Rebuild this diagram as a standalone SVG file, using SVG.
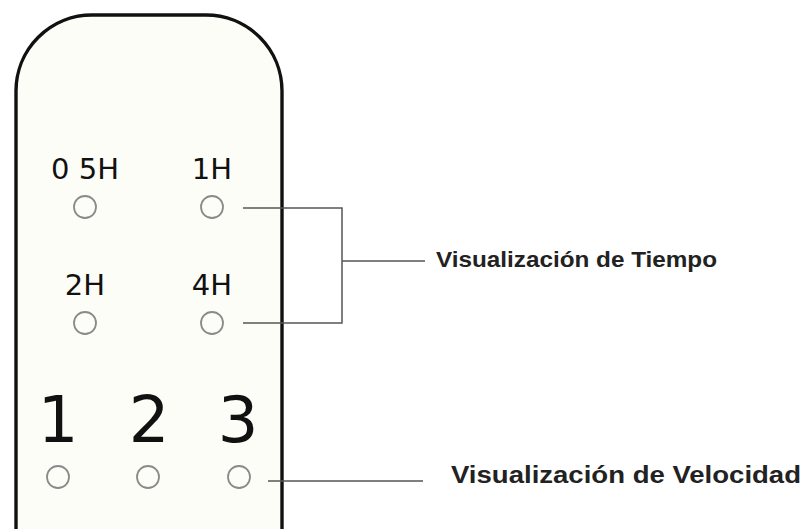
<svg xmlns="http://www.w3.org/2000/svg" width="806" height="529" viewBox="0 0 806 529">
<style>
.body{fill:#fdfdf8;stroke:#111;stroke-width:3.4}
.led{fill:#fdfdf8;stroke:#8a8a8a;stroke-width:1.8}
.lbl{font-family:"DejaVu Sans",sans-serif;fill:#111;text-anchor:middle}
.cap{font-family:"Liberation Sans","DejaVu Sans",sans-serif;font-weight:bold;fill:#222}
.conn{fill:none;stroke:#555;stroke-width:1.5}
</style>
<rect width="806" height="529" fill="#ffffff"/>
<g id="device">
<path class="body" d="M16,532 L16,91 A76,76 0 0 1 92,15 L206,15 A76,76 0 0 1 282,91 L282,532"/>
</g>
<g id="led-05h"><text class="lbl" x="85" y="179" font-size="29">0 5H</text><circle class="led" cx="85" cy="207" r="11"/></g>
<g id="led-1h"><text class="lbl" x="212" y="179" font-size="29">1H</text><circle class="led" cx="212" cy="207" r="11"/></g>
<g id="led-2h"><text class="lbl" x="85" y="295" font-size="29">2H</text><circle class="led" cx="85" cy="323" r="11"/></g>
<g id="led-4h"><text class="lbl" x="212" y="295" font-size="29">4H</text><circle class="led" cx="212" cy="323" r="11"/></g>
<g id="led-s1"><text class="lbl" x="58" y="442" font-size="64">1</text><circle class="led" cx="58" cy="477" r="11"/></g>
<g id="led-s2"><text class="lbl" x="149" y="442" font-size="64">2</text><circle class="led" cx="148" cy="477" r="11"/></g>
<g id="led-s3"><text class="lbl" x="238" y="442" font-size="64">3</text><circle class="led" cx="239" cy="477" r="11"/></g>
<g id="connectors">
<path class="conn" d="M243,208 H342 V323 H243 M342,261 H425"/>
<path class="conn" d="M268,481 H423"/>
</g>
<g id="label-tiempo"><text class="cap" x="436" y="267" font-size="22" textLength="281" lengthAdjust="spacingAndGlyphs">Visualización de Tiempo</text></g>
<g id="label-velocidad"><text class="cap" x="451" y="483" font-size="23" textLength="350" lengthAdjust="spacingAndGlyphs">Visualización de Velocidad</text></g>
</svg>
